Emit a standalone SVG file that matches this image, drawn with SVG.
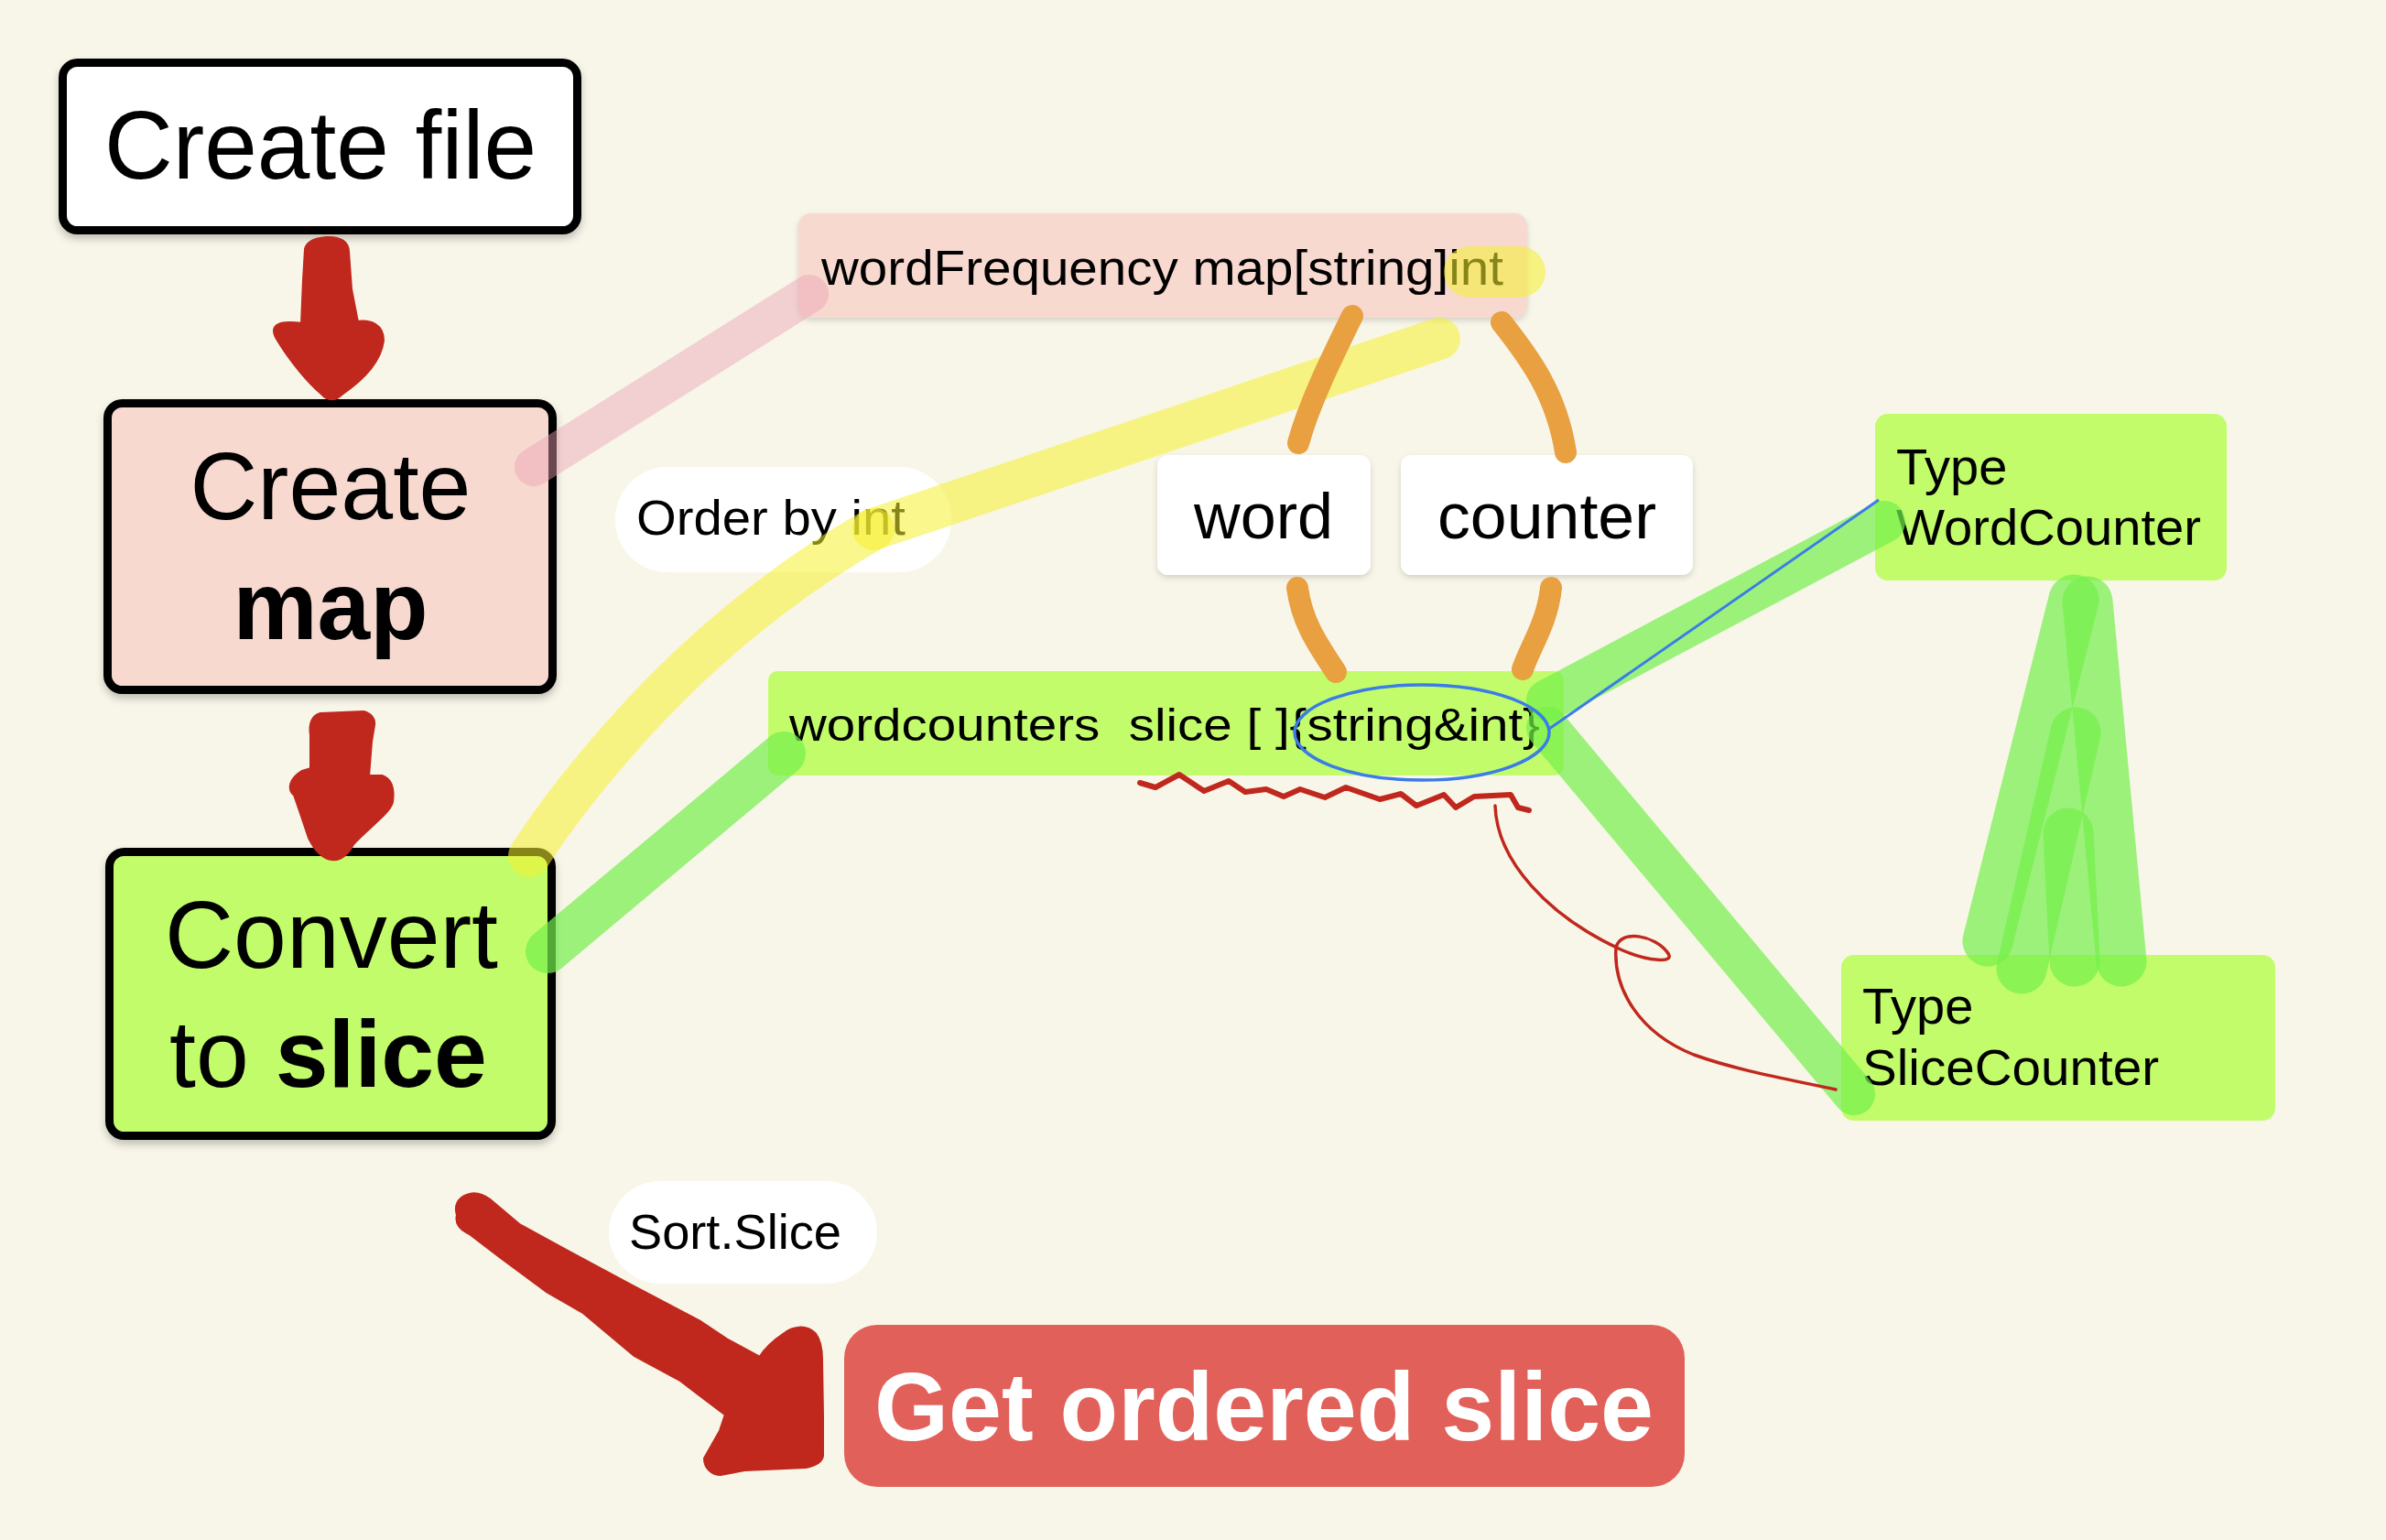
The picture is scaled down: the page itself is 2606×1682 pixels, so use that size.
<svg xmlns="http://www.w3.org/2000/svg" width="2606" height="1682" viewBox="0 0 2606 1682">
<defs>
<filter id="sh" x="-10%" y="-10%" width="120%" height="130%">
<feDropShadow dx="0" dy="5" stdDeviation="4" flood-color="#000" flood-opacity="0.22"/>
</filter>
<filter id="sh2" x="-10%" y="-10%" width="120%" height="130%">
<feDropShadow dx="0" dy="3" stdDeviation="3" flood-color="#000" flood-opacity="0.15"/>
</filter>
</defs>
<style>
text{font-family:"Liberation Sans",Arial,sans-serif;fill:#000}
.big{stroke:#000;stroke-width:9}
.pink{fill:#f7d9d0}
.lime{fill:#c2fc6b}
.white{fill:#fff}
.bold{font-weight:bold}
.red{fill:#c0281e;stroke:#c0281e;stroke-width:4;stroke-linejoin:round}
.green{fill:none;stroke:#74f04a;stroke-opacity:0.7;stroke-linecap:round}
.yellow{fill:none;stroke:#f5f030;stroke-opacity:0.55;stroke-linecap:round}
.orange{fill:none;stroke:#e8a040;stroke-width:24;stroke-linecap:round}
.ink{fill:none;stroke:#c0281e;stroke-linecap:round;stroke-linejoin:round}
</style>
<rect width="2606" height="1682" fill="#f8f6e9"/>

<g id="create-file" filter="url(#sh)">
<rect class="big white" x="68.5" y="68.5" width="562" height="183" rx="16"/>
<text x="350" y="195" font-size="106" text-anchor="middle" textLength="472" lengthAdjust="spacingAndGlyphs">Create file</text>
</g>

<g id="create-map" filter="url(#sh)">
<rect class="big pink" x="117.5" y="440.5" width="486" height="313" rx="16"/>
<text x="361" y="567" font-size="104" text-anchor="middle" textLength="307" lengthAdjust="spacingAndGlyphs">Create</text>
<text class="bold" x="361" y="698" font-size="106" text-anchor="middle" textLength="213" lengthAdjust="spacingAndGlyphs">map</text>
</g>

<g id="convert-slice" filter="url(#sh)">
<rect class="big lime" x="119.5" y="930.5" width="483" height="310" rx="16"/>
<text x="180" y="1057" font-size="104" textLength="364" lengthAdjust="spacingAndGlyphs">Convert</text>
<text x="185" y="1187" font-size="104">to <tspan class="bold">slice</tspan></text>
</g>

<g id="word-frequency" filter="url(#sh2)">
<rect class="pink" x="872" y="233" width="796" height="114" rx="14"/>
<text x="897" y="311" font-size="53" textLength="745" lengthAdjust="spacingAndGlyphs">wordFrequency map[string]int</text>
</g>

<g id="order-by-int">
<rect class="white" x="672" y="510" width="367" height="115" rx="57"/>
<text x="695" y="584" font-size="54" textLength="294" lengthAdjust="spacingAndGlyphs">Order by int</text>
</g>

<g id="word" filter="url(#sh2)">
<rect class="white" x="1264" y="497" width="233" height="131" rx="12"/>
<text x="1380" y="588" font-size="70" text-anchor="middle" textLength="152" lengthAdjust="spacingAndGlyphs">word</text>
</g>

<g id="counter" filter="url(#sh2)">
<rect class="white" x="1530" y="497" width="319" height="131" rx="12"/>
<text x="1689.5" y="588" font-size="70" text-anchor="middle" textLength="239" lengthAdjust="spacingAndGlyphs">counter</text>
</g>

<g id="wordcounters">
<rect class="lime" x="839" y="733" width="869" height="114" rx="10"/>
<text x="862" y="809" font-size="50" style="white-space:pre" textLength="820" lengthAdjust="spacingAndGlyphs">wordcounters  slice [ ]{string&amp;int}</text>
</g>

<g id="type-wordcounter">
<rect class="lime" x="2048" y="452" width="384" height="182" rx="14"/>
<text x="2071" y="529" font-size="56">Type</text>
<text x="2071" y="595" font-size="56" textLength="333" lengthAdjust="spacingAndGlyphs">WordCounter</text>
</g>

<g id="type-slicecounter">
<rect class="lime" x="2011" y="1043" width="474" height="181" rx="14"/>
<text x="2034" y="1118" font-size="56">Type</text>
<text x="2034" y="1185" font-size="56" textLength="324" lengthAdjust="spacingAndGlyphs">SliceCounter</text>
</g>

<g id="sort-slice">
<rect class="white" x="665" y="1290" width="293" height="112" rx="56"/>
<text x="687" y="1364" font-size="54" textLength="232" lengthAdjust="spacingAndGlyphs">Sort.Slice</text>
</g>

<g id="get-ordered-slice">
<rect fill="#e2605a" x="922" y="1447" width="918" height="177" rx="36"/>
<text class="bold" x="955" y="1573" font-size="106" style="fill:#fff" textLength="851" lengthAdjust="spacingAndGlyphs">Get ordered slice</text>
</g>

<g id="connectors">
<path d="M583,510 L884,321" fill="none" stroke="#ec9fb4" stroke-opacity="0.45" stroke-width="42" stroke-linecap="round"/>
<path class="yellow" stroke-width="46" d="M578,935 C620,870 680,800 730,750 C800,680 880,620 954,578"/>
<path class="yellow" stroke-width="46" d="M954,578 L1572,370"/>
<path class="yellow" stroke-width="56" d="M1605,297 L1660,297"/>
<path class="orange" d="M1477,345 C1455,390 1430,440 1418,484"/>
<path class="orange" d="M1640,352 C1670,390 1700,430 1710,494"/>
<path class="orange" d="M1417,642 C1422,680 1440,705 1459,734"/>
<path class="orange" d="M1694,642 C1690,680 1672,705 1663,731"/>
<path class="green" stroke-width="48" d="M598,1039 L856,823"/>
<path class="green" stroke-width="46" d="M1690,765 L2058,570"/>
<path class="green" stroke-width="46" d="M1690,795 L2025,1195"/>
<path class="green" stroke-width="55" d="M2265,655 L2171,1028"/>
<path class="green" stroke-width="55" d="M2280,657 L2317,1050"/>
<path class="green" stroke-width="55" d="M2267,800 L2208,1058"/>
<path class="green" stroke-width="55" d="M2259,910 L2266,1050"/>
<ellipse cx="1553" cy="800" rx="139" ry="52" fill="none" stroke="#3a7ce8" stroke-width="3.5"/>
<path d="M1692,796 L2052,546" fill="none" stroke="#3a7ce8" stroke-width="3"/>
<path class="ink" stroke-width="6" d="M1245,855 L1262,860 L1288,846 L1315,864 L1342,853 L1360,865 L1383,862 L1402,870 L1420,862 L1447,871 L1470,860 L1507,873 L1530,867 L1547,880 L1577,868 L1590,882 L1610,870 L1650,868 L1658,882 L1670,885"/>
<path class="ink" stroke-width="3.5" d="M1633,880 C1635,940 1690,1000 1770,1037 C1800,1050 1832,1053 1821,1040 C1808,1022 1770,1014 1765,1035 C1762,1080 1790,1128 1850,1152 C1900,1170 1960,1180 2005,1190"/>
<path class="red" d="M356,260 C372,259 380,265 380,275 L383,316 L390,352 C405,350 418,355 418,372 C415,395 395,415 373,430 C366,437 358,437 352,430 C338,418 318,395 303,370 C296,358 300,350 330,354 L332,306 L334,272 C336,264 345,261 356,260 Z"/>
<path class="red" d="M350,780 L397,778 C405,780 409,786 408,792 L405,810 L402,848 L417,848 C428,852 430,862 428,876 C425,888 400,905 385,922 C378,935 370,939 362,938 C350,936 343,925 338,915 C333,900 328,885 322,868 C315,862 316,852 330,843 L340,840 L340,803 C338,790 342,782 350,780 Z"/>
<path class="red" d="M513,1305 C520,1303 528,1306 535,1311 L567,1338 L620,1367 L687,1403 L763,1443 L793,1463 L830,1483 C835,1475 845,1465 857,1457 C865,1450 880,1447 890,1457 C896,1465 897,1475 897,1485 L898,1547 L898,1590 C897,1597 890,1600 880,1602 L813,1605 L787,1610 C778,1610 770,1603 770,1593 L787,1563 L793,1545 L743,1507 L693,1480 L637,1433 L597,1410 L547,1373 L513,1347 C502,1342 498,1335 500,1327 C497,1318 500,1308 513,1305 Z"/>
</g>
</svg>
